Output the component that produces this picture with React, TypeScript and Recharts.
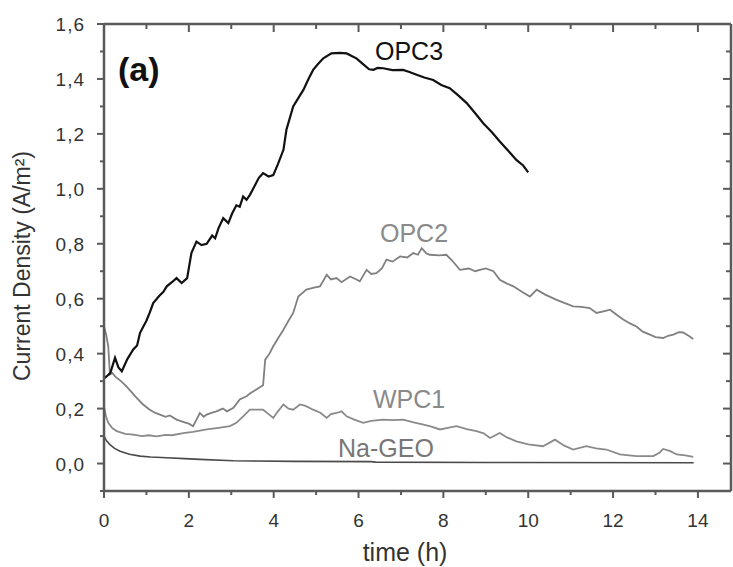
import { Line, LineChart, XAxis, YAxis } from "recharts";

// time (h) / current density (A/m²)
const opc3 = [
  [0, 0.31], [0.06, 0.317], [0.15, 0.33], [0.26, 0.385], [0.34, 0.35], [0.42, 0.336], [0.55, 0.38], [0.69, 0.415],
  [0.78, 0.43], [0.85, 0.476], [1.0, 0.52], [1.08, 0.55], [1.16, 0.584], [1.3, 0.61], [1.4, 0.625], [1.48, 0.645],
  [1.6, 0.66], [1.71, 0.675], [1.83, 0.657], [1.96, 0.675], [2.06, 0.766], [2.18, 0.808], [2.3, 0.795], [2.42, 0.8],
  [2.55, 0.83], [2.62, 0.82], [2.7, 0.857], [2.81, 0.893], [2.93, 0.875], [3.02, 0.91], [3.12, 0.94], [3.2, 0.935],
  [3.28, 0.972], [3.36, 0.96], [3.44, 0.978], [3.55, 1.01], [3.65, 1.04], [3.75, 1.057], [3.88, 1.045], [3.99, 1.05],
  [4.1, 1.09], [4.23, 1.142], [4.3, 1.215], [4.46, 1.3], [4.58, 1.33], [4.7, 1.36], [4.82, 1.4], [4.93, 1.433],
  [5.05, 1.455], [5.17, 1.475], [5.36, 1.493], [5.55, 1.495], [5.72, 1.493], [5.85, 1.483], [5.95, 1.475],
  [6.1, 1.455], [6.25, 1.435], [6.35, 1.433], [6.45, 1.44], [6.58, 1.439], [6.8, 1.432], [7.05, 1.433], [7.2, 1.425],
  [7.37, 1.415], [7.55, 1.405], [7.76, 1.396], [7.95, 1.378], [8.15, 1.366], [8.35, 1.34], [8.55, 1.312],
  [8.75, 1.275], [8.94, 1.239], [9.15, 1.205], [9.33, 1.172], [9.55, 1.135], [9.72, 1.105], [9.88, 1.085], [10.0, 1.06],
];

const opc2 = [
  [0, 0.5], [0.05, 0.47], [0.1, 0.427], [0.14, 0.324], [0.2, 0.33], [0.26, 0.317], [0.4, 0.3], [0.53, 0.281],
  [0.65, 0.26], [0.77, 0.239], [0.92, 0.215], [1.08, 0.196], [1.2, 0.185], [1.32, 0.178], [1.45, 0.17], [1.55, 0.175],
  [1.71, 0.16], [1.9, 0.15], [2.0, 0.145], [2.1, 0.136], [2.18, 0.16], [2.26, 0.184], [2.35, 0.17], [2.42, 0.178],
  [2.55, 0.185], [2.65, 0.19], [2.8, 0.2], [2.9, 0.19], [3.05, 0.203], [3.2, 0.233], [3.36, 0.245], [3.44, 0.255],
  [3.6, 0.27], [3.75, 0.285], [3.8, 0.378], [3.9, 0.4], [3.99, 0.427], [4.1, 0.455], [4.23, 0.487], [4.35, 0.52],
  [4.46, 0.548], [4.58, 0.608], [4.77, 0.633], [4.95, 0.64], [5.09, 0.645], [5.25, 0.687], [5.35, 0.67], [5.48, 0.675],
  [5.6, 0.66], [5.8, 0.681], [5.95, 0.67], [6.03, 0.663], [6.19, 0.705], [6.3, 0.69], [6.42, 0.693], [6.55, 0.71],
  [6.66, 0.742], [6.8, 0.735], [6.98, 0.754], [7.15, 0.75], [7.29, 0.766], [7.4, 0.76], [7.49, 0.784], [7.6, 0.765],
  [7.68, 0.76], [7.9, 0.758], [8.07, 0.76], [8.2, 0.74], [8.39, 0.705], [8.6, 0.71], [8.75, 0.7], [8.86, 0.705],
  [9.0, 0.71], [9.18, 0.7], [9.33, 0.669], [9.5, 0.655], [9.65, 0.645], [9.85, 0.625], [10.04, 0.608], [10.2, 0.633],
  [10.4, 0.615], [10.67, 0.596], [10.85, 0.585], [11.06, 0.572], [11.25, 0.57], [11.45, 0.566], [11.61, 0.548],
  [11.8, 0.555], [11.93, 0.56], [12.1, 0.54], [12.24, 0.524], [12.4, 0.51], [12.55, 0.499], [12.7, 0.48], [12.87, 0.469],
  [13.0, 0.46], [13.18, 0.457], [13.3, 0.465], [13.42, 0.469], [13.55, 0.478], [13.65, 0.477], [13.78, 0.465], [13.89, 0.453],
];

const wpc1 = [
  [0, 0.208], [0.05, 0.17], [0.1, 0.148], [0.2, 0.128], [0.3, 0.118], [0.5, 0.108], [0.69, 0.105], [0.9, 0.1],
  [1.05, 0.103], [1.24, 0.099], [1.45, 0.104], [1.6, 0.103], [1.87, 0.111], [2.1, 0.115], [2.42, 0.124], [2.7, 0.13],
  [2.97, 0.136], [3.12, 0.148], [3.28, 0.172], [3.44, 0.196], [3.6, 0.196], [3.75, 0.196], [3.88, 0.18], [3.99, 0.166],
  [4.1, 0.19], [4.23, 0.215], [4.35, 0.2], [4.46, 0.196], [4.62, 0.215], [4.75, 0.21], [4.93, 0.196], [5.1, 0.185],
  [5.25, 0.166], [5.35, 0.18], [5.48, 0.184], [5.6, 0.19], [5.72, 0.172], [5.9, 0.16], [6.11, 0.148], [6.3, 0.155],
  [6.58, 0.16], [6.8, 0.158], [7.05, 0.16], [7.3, 0.15], [7.53, 0.142], [7.7, 0.135], [7.92, 0.124], [8.1, 0.13],
  [8.31, 0.136], [8.55, 0.125], [8.78, 0.118], [8.95, 0.11], [9.1, 0.093], [9.33, 0.111], [9.5, 0.095], [9.72, 0.081],
  [10.0, 0.07], [10.35, 0.063], [10.63, 0.087], [10.85, 0.065], [11.06, 0.051], [11.37, 0.063], [11.6, 0.055],
  [11.84, 0.051], [12.16, 0.033], [12.55, 0.027], [12.95, 0.027], [13.1, 0.04], [13.18, 0.053], [13.35, 0.045],
  [13.5, 0.033], [13.7, 0.03], [13.89, 0.024],
];

const naGeo = [
  [0, 0.1], [0.05, 0.085], [0.14, 0.069], [0.25, 0.055], [0.38, 0.045], [0.6, 0.034], [0.85, 0.027], [1.1, 0.024],
  [1.48, 0.021], [1.9, 0.018], [2.26, 0.015], [3.05, 0.01], [3.5, 0.009], [4.5, 0.008], [6.3, 0.007], [6.4, 0.005],
  [9.0, 0.004], [13.9, 0.003],
];

const xTicks = [0, 1, 2, 3, 4, 5, 6, 7, 8, 9, 10, 11, 12, 13, 14];
const yTicks = [-0.1, 0, 0.1, 0.2, 0.3, 0.4, 0.5, 0.6, 0.7, 0.8, 0.9, 1.0, 1.1, 1.2, 1.3, 1.4, 1.5, 1.6];
const xDomain = [0, 14.78];
const yDomain = [-0.1, 1.6];

const W = 733;
const H = 567;
const MARGIN = { top: 24, right: 2, bottom: 26, left: 44 };
const X_AXIS_H = 50;
const Y_AXIS_W = 60;
const PLOT_W = W - MARGIN.left - MARGIN.right - Y_AXIS_W;
const PLOT_H = H - MARGIN.top - MARGIN.bottom - X_AXIS_H;

const FONT = '"Liberation Sans", Arial, sans-serif';
const FRAME = "#5a5a5a";
const INK = "#333";

const toRows = (pts: number[][]) => pts.map(([t, v]) => ({ t, v }));
const isMajorX = (v: number) => Math.round(v) % 2 === 0;
const isMajorY = (v: number) => Math.round(v * 10) % 2 === 0;
const fmtY = (v: number) => v.toFixed(1).replace(".", ",");

// bottom tick (outward) + mirrored inner tick on the top edge; the first one also draws the top edge
function BottomTick({ x, y, payload, index }: any) {
  const major = isMajorX(payload.value);
  const top = y - PLOT_H;
  return (
    <g>
      {index === 0 && <line x1={x} x2={x + PLOT_W} y1={top} y2={top} stroke={FRAME} strokeWidth={2.5} />}
      <line x1={x} x2={x} y1={y} y2={y + (major ? 7 : 4)} stroke={FRAME} strokeWidth={2} />
      <line x1={x} x2={x} y1={top} y2={top + (major ? 8 : 5)} stroke={FRAME} strokeWidth={2} />
      {major && (
        <text x={x} y={y + 36} textAnchor="middle" fontSize={19} fill={INK} fontFamily={FONT}>
          {payload.value}
        </text>
      )}
    </g>
  );
}

// left tick (outward) + mirrored inner tick on the right edge; the first one also draws the right edge
function LeftTick({ x, y, payload, index }: any) {
  const major = isMajorY(payload.value);
  const right = x + PLOT_W;
  return (
    <g>
      {index === 0 && <line x1={right} x2={right} y1={y} y2={y - PLOT_H} stroke={FRAME} strokeWidth={2.5} />}
      <line x1={x - (major ? 7 : 4)} x2={x} y1={y} y2={y} stroke={FRAME} strokeWidth={2} />
      <line x1={right - (major ? 8 : 5)} x2={right} y1={y} y2={y} stroke={FRAME} strokeWidth={2} />
      {major && payload.value > -0.05 && (
        <text x={x - 19} y={y + 7} textAnchor="end" fontSize={19} letterSpacing={1} fill={INK} fontFamily={FONT}>
          {fmtY(payload.value)}
        </text>
      )}
    </g>
  );
}

export default function App() {
  return (
    <div style={{ position: "absolute", left: 0, top: 0, width: W, height: H, background: "#fff" }}>
      <svg width={W} height={H} style={{ position: "absolute", left: 0, top: 0 }} fontFamily={FONT}>
        <text x={118} y={81} fontSize={34} fontWeight="bold" fill="#111">(a)</text>
        <text x={409} y={60} textAnchor="middle" fontSize={25} fill="#111">OPC3</text>
        <text x={414} y={242} textAnchor="middle" fontSize={25} fill="#8a8a8a">OPC2</text>
        <text x={409} y={408} textAnchor="middle" fontSize={25} fill="#8a8a8a">WPC1</text>
        <text x={386} y={457} textAnchor="middle" fontSize={25} fill="#777">Na-GEO</text>
        <text x={405} y={561} textAnchor="middle" fontSize={25} fill={INK}>time (h)</text>
        <text transform="translate(30,266) rotate(-90)" textAnchor="middle" fontSize={23} fill={INK}>Current Density (A/m²)</text>
      </svg>
      <LineChart width={W} height={H} margin={MARGIN}>
        <XAxis
          xAxisId="b" dataKey="t" type="number" domain={xDomain} ticks={xTicks} interval={0} allowDataOverflow
          height={X_AXIS_H} tickSize={0} tickMargin={0} tickLine={false} tick={BottomTick}
          axisLine={{ stroke: FRAME, strokeWidth: 2.5 }}
        />
        <YAxis
          yAxisId="l" type="number" domain={yDomain} ticks={yTicks} interval={0} allowDataOverflow width={Y_AXIS_W}
          tickSize={0} tickMargin={0} tickLine={false} tick={LeftTick}
          axisLine={{ stroke: FRAME, strokeWidth: 2.5 }}
        />
        <Line xAxisId="b" yAxisId="l" data={toRows(naGeo)} dataKey="v" stroke="#4a4a4a" strokeWidth={1.6} dot={false} isAnimationActive={false} />
        <Line xAxisId="b" yAxisId="l" data={toRows(wpc1)} dataKey="v" stroke="#8a8a8a" strokeWidth={1.8} dot={false} isAnimationActive={false} />
        <Line xAxisId="b" yAxisId="l" data={toRows(opc2)} dataKey="v" stroke="#808080" strokeWidth={1.8} dot={false} isAnimationActive={false} />
        <Line xAxisId="b" yAxisId="l" data={toRows(opc3)} dataKey="v" stroke="#111" strokeWidth={2.2} dot={false} isAnimationActive={false} />
      </LineChart>
    </div>
  );
}
